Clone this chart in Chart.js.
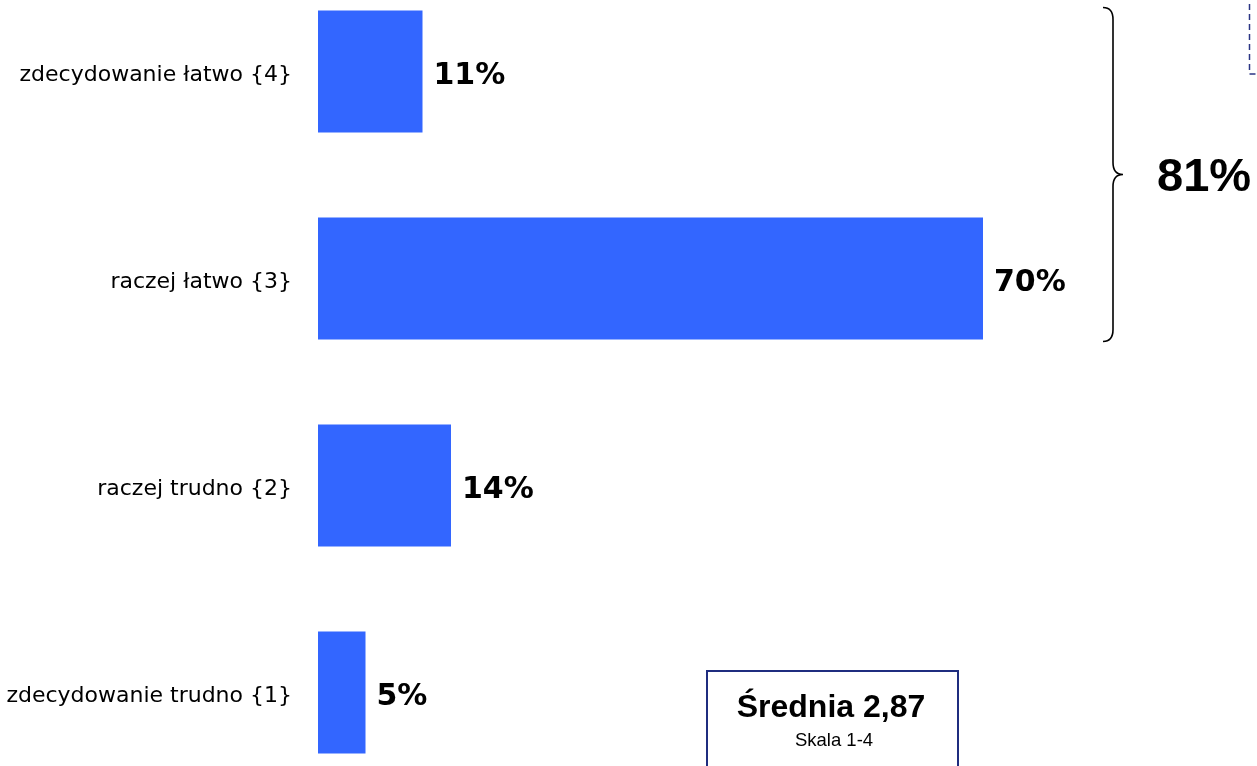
<!DOCTYPE html>
<html>
<head>
<meta charset="utf-8">
<script src="https://cdn.jsdelivr.net/npm/chart.js@4"></script>
<style>
  html, body { margin: 0; padding: 0; background: #fff; overflow: hidden; }
  #wrap { position: absolute; left: 0; top: -32px; width: 1257px; height: 828px; }
</style>
</head>
<body>
<div id="wrap"><canvas id="myChart" width="1257" height="828"></canvas></div>
<script>
// answers, top to bottom
var categories = [
  'zdecydowanie łatwo {4}',
  'raczej łatwo {3}',
  'raczej trudno {2}',
  'zdecydowanie trudno {1}',
];
var scores = [4, 3, 2, 1];
var percents = [11, 70, 14, 5];

var CROP = 32; // canvas starts above the page

var topTwo = percents[0] + percents[1];
var mean = 0;
for (var i = 0; i < percents.length; i++) mean += scores[i] * percents[i];
mean = mean / 100;

var extras = {
  id: 'extras',
  afterDatasetsDraw: function (chart) {
    var ctx = chart.ctx;
    var bars = chart.getDatasetMeta(0).data;
    ctx.save();

    // value labels
    ctx.fillStyle = '#000';
    ctx.font = 'bold 30px "DejaVu Sans"';
    ctx.textBaseline = 'middle';
    ctx.textAlign = 'left';
    bars.forEach(function (b, i) {
      ctx.fillText(percents[i] + '%', b.x + 11, b.y + 5);
    });

    // brace over the two top answers
    var y0 = bars[0].y - bars[0].height / 2 - 3;
    var y1 = bars[1].y + bars[1].height / 2 + 2;
    var ym = (y0 + y1) / 2;
    var xl = 1103, xv = 1113, xt = 1123;
    ctx.strokeStyle = '#000';
    ctx.lineWidth = 1.6;
    ctx.beginPath();
    ctx.moveTo(xl, y0);
    ctx.quadraticCurveTo(xv, y0, xv, y0 + 12);
    ctx.lineTo(xv, ym - 12);
    ctx.quadraticCurveTo(xv, ym, xt, ym);
    ctx.quadraticCurveTo(xv, ym, xv, ym + 12);
    ctx.lineTo(xv, y1 - 12);
    ctx.quadraticCurveTo(xv, y1, xl, y1);
    ctx.stroke();

    ctx.font = 'bold 47px "Liberation Sans"';
    ctx.textBaseline = 'middle';
    ctx.fillText(topTwo + '%', 1157, ym + 4);

    // dashed box in the corner
    ctx.strokeStyle = '#2b3585';
    ctx.lineWidth = 1.5;
    ctx.setLineDash([6, 4]);
    ctx.strokeRect(1249.5, -10, 40, 74 + CROP + 10);
    ctx.setLineDash([]);

    // mean box
    ctx.strokeStyle = '#1f2d7f';
    ctx.lineWidth = 2;
    ctx.strokeRect(707, 671 + CROP, 251, 140);
    ctx.textAlign = 'center';
    ctx.textBaseline = 'alphabetic';
    ctx.font = 'bold 32px "Liberation Sans"';
    ctx.fillText('Średnia ' + mean.toFixed(2).replace('.', ','), 831, 717 + CROP);
    ctx.font = '18.5px "Liberation Sans"';
    ctx.fillText('Skala 1-4', 834, 746 + CROP);

    ctx.restore();
  },
};

var ctx = document.getElementById('myChart').getContext('2d');
var chart = new Chart(ctx, {
  type: 'bar',
  data: {
    labels: categories,
    datasets: [
      {
        data: percents,
        backgroundColor: '#3366ff',
        barPercentage: 0.59,
        categoryPercentage: 1,
      },
    ],
  },
  options: {
    indexAxis: 'y',
    responsive: false,
    animation: false,
    layout: { autoPadding: false, padding: { left: 0, right: 84, top: 0, bottom: 0 } },
    plugins: { legend: { display: false }, tooltip: { enabled: false } },
    scales: {
      x: { display: false, min: 0, max: 90 },
      y: {
        offset: true,
        grid: { display: false, drawTicks: false },
        border: { display: false },
        ticks: { color: '#000', padding: 26, labelOffset: 4, font: { family: 'DejaVu Sans', size: 22 } },
        afterFit: function (scale) {
          scale.width = 318;
          // the label gap should not eat vertical room
          scale.paddingTop = 0;
          scale.paddingBottom = 0;
        },
      },
    },
  },
  plugins: [extras],
});
</script>
</body>
</html>
